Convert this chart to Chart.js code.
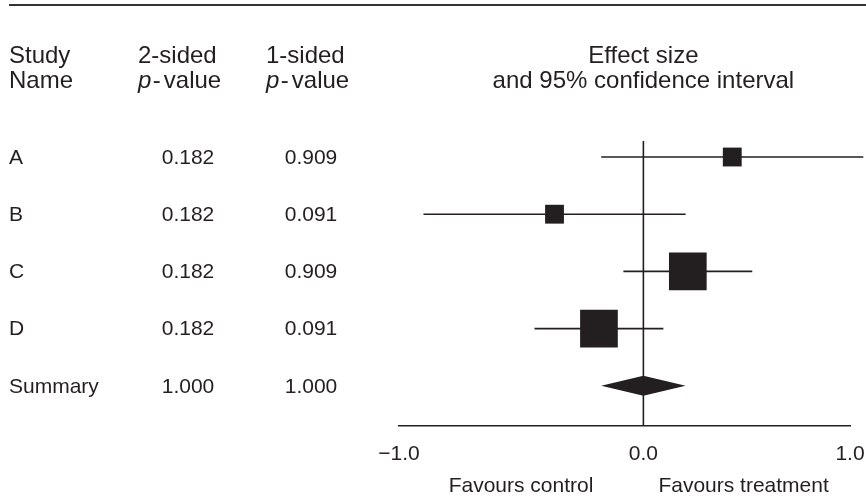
<!DOCTYPE html>
<html><head><meta charset="utf-8">
<script src="https://cdn.jsdelivr.net/npm/chart.js@4"></script>
<style>html,body{margin:0;padding:0;background:#fff;}canvas{display:block;}</style>
</head><body>
<canvas id="c" width="866" height="499"></canvas>
<script>
// ---- data ----
const studies = ['A', 'B', 'C', 'D'];
const pTwoSided = ['0.182', '0.182', '0.182', '0.182'];
const pOneSided = ['0.909', '0.091', '0.909', '0.091'];
const effect = [0.40, -0.40, 0.20, -0.20];
const ciLow = [-0.19, -0.99, -0.09, -0.49];
const ciHigh = [0.99, 0.19, 0.49, 0.09];
const weight = [11.1, 11.1, 44.4, 44.4];
const summaryLabel = ['Summary'];
const summaryP2 = ['1.000'];
const summaryP1 = ['1.000'];
const summaryEffect = [0.0];
const summaryLow = [-0.19];
const summaryHigh = [0.19];
const tickLabels = ['\u22121.0', '0.0', '1.0'];
const favourLabels = ['Favours control', 'Favours treatment'];
const headerCols = [['Study', 'Name'], ['2-sided', '*p*-value'], ['1-sided', '*p*-value']];
const headerPlot = ['Effect size', 'and 95% confidence interval'];

// ---- style ----
const INK = '#231f20';
const FAM = '"Liberation Sans", Arial, Helvetica, sans-serif';
const FS = 21;   // table / axis text
const HFS = 24;  // header text
const rows = studies.map((_, i) => i);
const summaryRow = studies.length;

const datasets = [];
datasets.push({
  type: 'scatter',
  data: effect.map((e, i) => ({x: e, y: rows[i]})),
  pointStyle: 'rect',
  pointRadius: weight.map(w => Math.sqrt(w) * 4.0),
  pointHoverRadius: weight.map(w => Math.sqrt(w) * 4.0),
  backgroundColor: INK,
  borderColor: INK,
  borderWidth: 0,
  clip: false
});
rows.forEach(i => {
  datasets.push({
    type: 'scatter',
    showLine: true,
    data: [{x: ciLow[i], y: i}, {x: ciHigh[i], y: i}],
    borderColor: INK,
    borderWidth: 1.6,
    pointRadius: 0,
    clip: false
  });
});

function drawRich(ctx, text, x, y, size) {
  // segments between * are italic; a small gap follows a hyphen
  const parts = text.split('*');
  let cx = x;
  parts.forEach((p, k) => {
    if (!p) return;
    ctx.font = (k % 2 === 1 ? 'italic ' : '') + size + 'px ' + FAM;
    if (k % 2 === 0 && p.charAt(0) === '-') {
      ctx.fillText('-', cx, y);
      cx += ctx.measureText('-').width + 3;
      p = p.slice(1);
    }
    ctx.fillText(p, cx, y);
    cx += ctx.measureText(p).width + (k % 2 === 1 ? 1.5 : 0);
  });
}

const forestPlugin = {
  id: 'forest',
  beforeDatasetsDraw(chart) {
    const {ctx, chartArea, scales: {x}} = chart;
    const x0 = x.getPixelForValue(0);
    ctx.save();
    ctx.strokeStyle = INK;
    ctx.lineWidth = 1.6;
    ctx.beginPath();
    ctx.moveTo(x0, chartArea.top);
    ctx.lineTo(x0, chartArea.bottom);
    ctx.stroke();
    ctx.restore();
  },
  afterDatasetsDraw(chart) {
    const {ctx, scales: {x, y}} = chart;
    const yc = y.getPixelForValue(summaryRow);
    const xl = x.getPixelForValue(summaryLow[0]);
    const xm = x.getPixelForValue(summaryEffect[0]);
    const xr = x.getPixelForValue(summaryHigh[0]);
    const hh = 10;
    ctx.save();
    ctx.fillStyle = INK;
    ctx.beginPath();
    ctx.moveTo(xl, yc);
    ctx.lineTo(xm, yc - hh);
    ctx.lineTo(xr, yc);
    ctx.lineTo(xm, yc + hh);
    ctx.closePath();
    ctx.fill();
    ctx.restore();
  },
  afterDraw(chart) {
    const {ctx, chartArea, scales: {x, y}} = chart;
    ctx.save();
    // top rule
    ctx.strokeStyle = '#333';
    ctx.lineWidth = 2;
    ctx.beginPath();
    ctx.moveTo(9, 5);
    ctx.lineTo(866, 5);
    ctx.stroke();

    ctx.fillStyle = INK;
    ctx.textBaseline = 'alphabetic';
    // column headers
    const colX = [9, 138, 266];
    const hy = [63, 88];
    headerCols.forEach((col, c) => {
      col.forEach((t, r) => {
        ctx.textAlign = 'left';
        drawRich(ctx, t, colX[c], hy[r], HFS);
      });
    });
    ctx.font = HFS + 'px ' + FAM;
    ctx.textAlign = 'center';
    const xz = x.getPixelForValue(0);
    headerPlot.forEach((t, r) => ctx.fillText(t, xz, hy[r]));

    // table rows
    ctx.font = FS + 'px ' + FAM;
    ctx.textBaseline = 'middle';
    const names = studies.concat(summaryLabel);
    const p2 = pTwoSided.concat(summaryP2);
    const p1 = pOneSided.concat(summaryP1);
    names.forEach((n, i) => {
      const yy = y.getPixelForValue(i) + 1;
      ctx.textAlign = 'left';
      ctx.fillText(n, 9, yy);
      ctx.textAlign = 'center';
      ctx.fillText(p2[i], 188, yy);
      ctx.fillText(p1[i], 311, yy);
    });

    // favours labels
    const fy = chartArea.bottom + 60;
    ctx.textAlign = 'right';
    ctx.fillText(favourLabels[0], xz - 50, fy);
    ctx.textAlign = 'left';
    ctx.fillText(favourLabels[1], xz + 15, fy);
    ctx.restore();
  }
};

new Chart(document.getElementById('c'), {
  data: {datasets},
  options: {
    responsive: false,
    animation: false,
    devicePixelRatio: 1,
    events: [],
    layout: {autoPadding: false, padding: {left: 399, right: 16, top: 141, bottom: 16}},
    plugins: {legend: {display: false}, tooltip: {enabled: false}},
    scales: {
      x: {
        type: 'linear',
        min: -1.1,
        max: 0.93,
        afterBuildTicks: s => { s.ticks = [{value: s.min}, {value: 0}, {value: s.max}]; },
        afterFit: s => { s.paddingLeft = 0; s.paddingRight = 0; },
        ticks: {
          callback: (v, i) => tickLabels[i],
          font: {family: FAM, size: FS},
          color: INK,
          padding: 16,
          maxRotation: 0,
          autoSkip: false
        },
        grid: {display: false, drawTicks: false},
        border: {display: true, color: INK, width: 1.6}
      },
      y: {
        type: 'linear',
        display: false,
        reverse: true,
        min: -0.28,
        max: 4.7
      }
    }
  },
  plugins: [forestPlugin]
});
</script>
</body></html>
